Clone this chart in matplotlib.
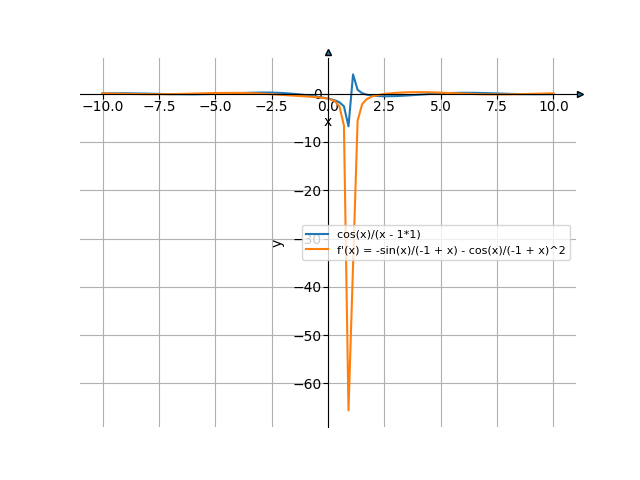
import matplotlib
matplotlib.use("Agg")
import matplotlib.pyplot as plt

# sample points
x_f = [-10, -9, -8, -7, -6, -5, -4, -3, -2.5, -2, -1.5, -1, -0.5, 0, 0.3,
       0.505, 0.707, 0.909, 1.111, 1.313, 1.515, 1.717, 2, 2.5, 3, 3.5, 4,
       4.5, 5, 5.5, 6, 6.5, 7, 7.5, 8, 8.5, 9, 9.5, 10]
y_f = [0.076, 0.091, 0.016, -0.094, -0.137, -0.047, 0.131, 0.247, 0.229,
       0.139, -0.028, -0.27, -0.585, -1.0, -1.365, -1.77, -2.6, -6.75, 4.0,
       0.81, 0.108, -0.204, -0.416, -0.534, -0.495, -0.375, -0.218, -0.06,
       0.071, 0.157, 0.192, 0.178, 0.126, 0.053, -0.021, -0.08, -0.114,
       -0.117, -0.093]

x_df = [-10, -9, -8, -7, -6, -5, -4, -3, -2, -1.5, -1, -0.5, 0, 0.3, 0.505,
        0.707, 0.909, 1.313, 1.515, 1.717, 2, 2.5, 3, 3.5, 4, 4.5, 5, 5.5,
        6, 6.5, 7, 7.5, 8, 8.5, 9, 9.5, 10]
y_df = [0.056, -0.032, -0.108, -0.094, 0.02, 0.152, 0.177, 0.027, -0.257,
        -0.41, -0.556, -0.71, -1.0, -1.527, -2.6, -6.6, -65.6, -5.6, -2.15,
        -1.1, -0.493, -0.043, 0.177, 0.29, 0.325, 0.296, 0.222, 0.122, 0.018,
        -0.071, -0.131, -0.152, -0.138, -0.096, -0.037, 0.023, 0.071]

labels = ["cos(x)/(x - 1*1)", "f'(x) = -sin(x)/(-1 + x) - cos(x)/(-1 + x)^2"]


def main():
    fig, ax = plt.subplots(figsize=(6.4, 4.8), dpi=100)
    ax.plot(x_f, y_f, label=labels[0])
    ax.plot(x_df, y_df, label=labels[1])

    # sympy-style centred axes
    ax.spines['left'].set_position('zero')
    ax.spines['bottom'].set_position('zero')
    ax.spines['right'].set_color('none')
    ax.spines['top'].set_color('none')
    ax.plot(1.008, 0, ">", ms=5, mfc='C0', mec='k',
            transform=ax.get_yaxis_transform(), clip_on=False)
    ax.plot(0, 1.015, "^", ms=5, mfc='C0', mec='k',
            transform=ax.get_xaxis_transform(), clip_on=False)

    ax.tick_params(pad=1)
    ax.grid(True)
    ax.set_xlabel("x", labelpad=1)
    ax.set_ylabel("y", labelpad=6)
    ax.legend(loc='center right', fontsize=8)

    plt.savefig("out.png")


if __name__ == '__main__':
    main()
